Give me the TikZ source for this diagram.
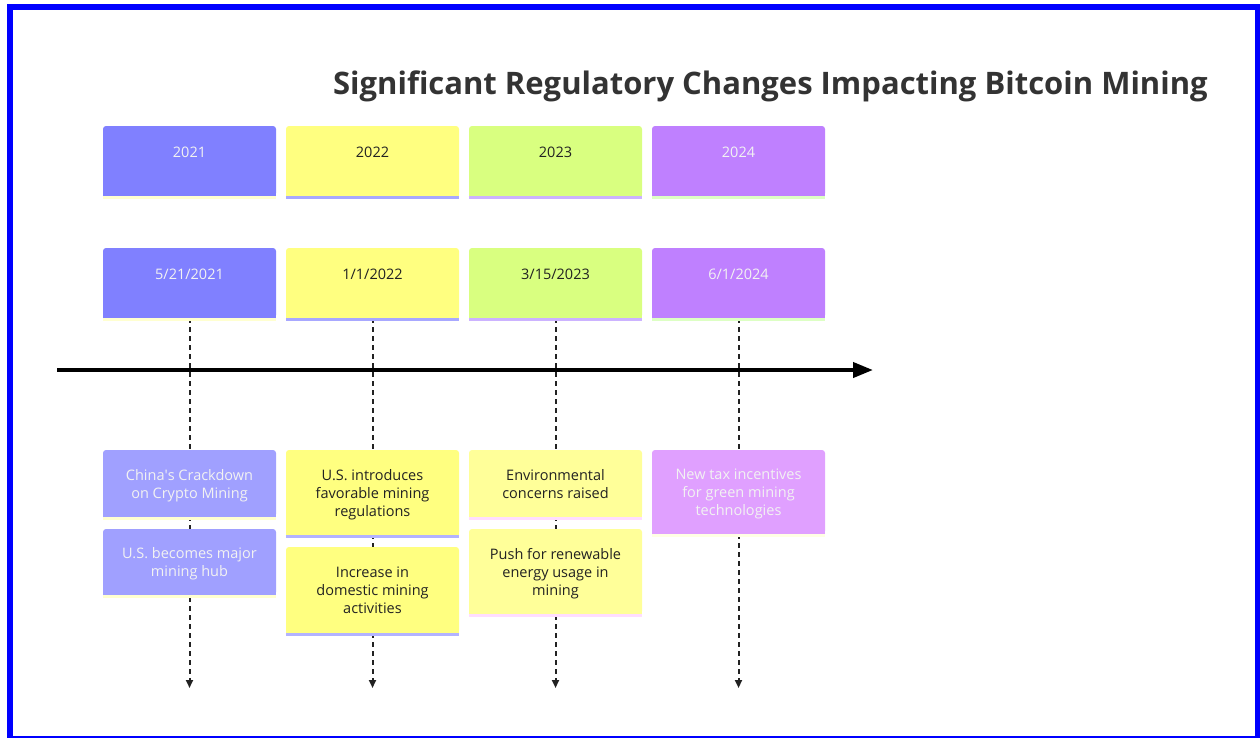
\documentclass[tikz,border=0pt]{standalone}
\usepackage{fontspec}
\setmainfont{Open Sans}
\usetikzlibrary{arrows.meta}

\pgfdeclarelayer{background}
\pgfsetlayers{background,main}

% colours of the four periods
\definecolor{yrA}{HTML}{8080FF}
\definecolor{yrB}{HTML}{FFFF80}
\definecolor{yrC}{HTML}{D9FF80}
\definecolor{yrD}{HTML}{BF80FF}
\definecolor{stA}{HTML}{FFFFD0}
\definecolor{stB}{HTML}{A8A8FF}
\definecolor{stC}{HTML}{CCB3FF}
\definecolor{stD}{HTML}{DDFFC4}
\definecolor{evA}{HTML}{A0A0FF}
\definecolor{evB}{HTML}{FFFF80}
\definecolor{evC}{HTML}{FFFF99}
\definecolor{evD}{HTML}{E0A0FF}
\definecolor{esA}{HTML}{FFFFD0}
\definecolor{esB}{HTML}{B3B3FF}
\definecolor{esC}{HTML}{FFDDFF}
\definecolor{esD}{HTML}{FFFFE4}
\definecolor{lite}{HTML}{F2F2F2}
\definecolor{dark}{HTML}{222222}
\definecolor{ink}{HTML}{333333}

\tikzset{
  card/.style={rectangle, rounded corners=3pt, inner sep=0pt, outer sep=0pt,
    minimum width=173pt, anchor=north west, align=center,
    font=\fontsize{14.5}{18}\selectfont},
  period/.style={card, minimum height=70pt, text height=10pt, text depth=18pt},
  tick/.style={line width=2pt, dash pattern=on 5pt off 4pt, dark,
    -{Triangle[width=7pt,length=8pt]}},
  timeline/.style={line width=4pt, black, -{Triangle[width=15pt,length=20pt]}},
  title/.style={font=\fontsize{31}{36}\selectfont\bfseries, text=ink, inner sep=0pt}
}

% square bottom and coloured strip under a card
\newcommand\cardbase[3]{%
  \fill[#2] ([yshift=4pt]#1.south west) rectangle (#1.south east);
  \fill[#3] (#1.south west) rectangle ([yshift=-3pt]#1.south east);}

\begin{document}
\begin{tikzpicture}[x=1pt,y=-1pt]
\useasboundingbox (0,0) rectangle (1260,737);
\draw[blue, line width=6pt] (10,7) rectangle (1258,739);

\node[title, anchor=base east] (title) at (1208,94)
  {Significant Regulatory Changes Impacting Bitcoin Mining};

% years and dates
\foreach \i/\x/\yr/\dt/\bg/\st/\fg in {1/103/2021/{5/21/2021}/yrA/stA/lite,
    2/286/2022/{1/1/2022}/yrB/stB/dark,
    3/469/2023/{3/15/2023}/yrC/stC/dark,
    4/652/2024/{6/1/2024}/yrD/stD/lite}{
  \node[period, fill=\bg, text=\fg] (yr\i) at (\x,126) {\yr};
  \cardbase{yr\i}{\bg}{\st}
  \node[period, fill=\bg, text=\fg] (dt\i) at (\x,248) {\dt};
  \cardbase{dt\i}{\bg}{\st}
  \coordinate (end\i) at (dt\i.south |- 0,688);
}

\begin{pgfonlayer}{background}
\foreach \i in {1,...,4}
  \draw[tick] (dt\i.south) -- (end\i);
\end{pgfonlayer}

\coordinate (tstart) at (57,370);
\coordinate (tend) at (873,370);
\draw[timeline] (tstart) -- (tend);

% events
\node[card, fill=evA, text=lite, minimum height=67pt, text depth=0pt] (ev1a) at (103,450)
  {China\textquotesingle s Crackdown\\on Crypto Mining};
\cardbase{ev1a}{evA}{esA}
\node[card, fill=evA, text=lite, minimum height=66pt, text depth=0pt] (ev1b) at (103,529)
  {U.S. becomes major\\mining hub};
\cardbase{ev1b}{evA}{esA}

\node[card, fill=evB, text=dark, minimum height=85pt, text depth=0pt] (ev2a) at (286,450)
  {U.S. introduces\\favorable mining\\regulations};
\cardbase{ev2a}{evB}{esB}
\node[card, fill=evB, text=dark, minimum height=86pt, text depth=0pt] (ev2b) at (286,547)
  {Increase in\\domestic mining\\activities};
\cardbase{ev2b}{evB}{esB}

\node[card, fill=evC, text=dark, minimum height=67pt, text depth=0pt] (ev3a) at (469,450)
  {Environmental\\concerns raised};
\cardbase{ev3a}{evC}{esC}
\node[card, fill=evC, text=dark, minimum height=85pt, text depth=0pt] (ev3b) at (469,529)
  {Push for renewable\\energy usage in\\mining};
\cardbase{ev3b}{evC}{esC}

\node[card, fill=evD, text=lite, minimum height=84pt, text depth=0pt] (ev4a) at (652,450)
  {New tax incentives\\for green mining\\technologies};
\cardbase{ev4a}{evD}{esD}
\end{tikzpicture}
\end{document}
